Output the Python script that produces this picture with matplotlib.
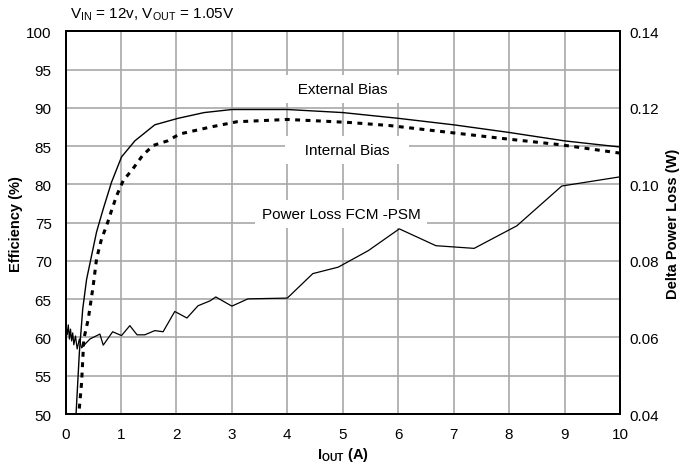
import matplotlib.pyplot as plt
import numpy as np

plt.rcParams['font.family'] = ['Liberation Sans Narrow', 'Liberation Sans', 'DejaVu Sans']
plt.rcParams['mathtext.fontset'] = 'custom'
plt.rcParams['mathtext.rm'] = 'Liberation Sans'
plt.rcParams['mathtext.bf'] = 'Liberation Sans:bold'

# External bias efficiency (%)
ext_i = [0.17, 0.19, 0.25, 0.31, 0.38, 0.47, 0.56, 0.68, 0.83, 1.01, 1.25, 1.61, 2.03, 2.5,
         3.0, 4.0, 5.0, 6.0, 7.0, 8.0, 9.0, 10.0]
ext_eff = [47, 50, 58.1, 63.7, 67.6, 70.7, 73.8, 76.8, 80.3, 83.6, 85.7, 87.8, 88.65, 89.4,
           89.8, 89.8, 89.4, 88.65, 87.8, 86.8, 85.7, 84.9]

# Internal bias efficiency (%)
int_i = [0.23, 0.24, 0.29, 0.33, 0.41, 0.50, 0.56, 0.65, 0.74, 0.83, 0.92, 1.04, 1.21, 1.39,
         1.58, 1.84, 2.06, 2.61, 3.09, 4.0, 4.59, 5.13, 5.85, 6.69, 7.9, 8.92, 10.0]
int_eff = [48, 50, 54.1, 59.8, 62.4, 66.8, 70.3, 72.9, 74.6, 76.6, 78.5, 80.5, 82.0, 83.8,
           85.1, 85.7, 86.6, 87.5, 88.2, 88.5, 88.3, 88.1, 87.7, 87.0, 86.0, 85.2, 84.1]

# Delta power loss FCM - PSM (W)
pl_i = [0.0, 0.03, 0.05, 0.07, 0.09, 0.11, 0.13, 0.15, 0.18, 0.21, 0.25, 0.29, 0.44, 0.62,
        0.68, 0.85, 1.01, 1.16, 1.29, 1.43, 1.61, 1.76, 1.97, 2.19, 2.39, 2.61, 2.71, 3.0,
        3.29, 4.0, 4.46, 4.92, 5.46, 6.02, 6.68, 7.37, 8.14, 8.95, 10.0]
pl_w = [0.0643, 0.0607, 0.0633, 0.0596, 0.0622, 0.0591, 0.0612, 0.0581, 0.0604, 0.0570,
        0.0596, 0.0573, 0.0596, 0.0609, 0.0580, 0.0615, 0.0605, 0.0631, 0.0607, 0.0607,
        0.0618, 0.0615, 0.0668, 0.0651, 0.0683, 0.0696, 0.0706, 0.0682, 0.0701, 0.0703,
        0.0767, 0.0784, 0.0827, 0.0884, 0.0840, 0.0833, 0.0892, 0.0996, 0.1020]

fig = plt.figure(figsize=(6.97, 4.64), dpi=100)
ax = fig.add_axes([0.094, 0.1056, 0.7955, 0.8244])
ax2 = ax.twinx()

ax.plot(ext_i, ext_eff, color='black', lw=1.0)
ax.plot(int_i, int_eff, color='black', lw=2.2, dashes=(1.6, 1.8))
ax2.plot(pl_i, pl_w, color='black', lw=0.9)

ax.set_xlim(0, 10)
ax.set_ylim(50, 100)
ax2.set_ylim(0.04, 0.14)
ax.set_xticks(np.arange(0, 11, 1))
ax.set_yticks(np.arange(50, 101, 5))
ax2.set_yticks(np.arange(0.04, 0.141, 0.02))
ax2.set_yticklabels([f"{v:.2f}" for v in np.arange(0.04, 0.141, 0.02)])

ax.grid(True, color='#a8a8a8', lw=1.2)
ax.set_axisbelow(True)
ax.tick_params(length=0, labelsize=11, pad=9)
ax.tick_params(axis='y', pad=10)
ax2.tick_params(length=0, labelsize=11, pad=7)
for a in (ax, ax2):
    for s in a.spines.values():
        s.set_color('black')
        s.set_linewidth(1.4)

ax.set_ylabel("Efficiency (%)", fontsize=10.5, fontweight='bold', labelpad=2)
ax2.set_ylabel("Delta Power Loss (W)", fontsize=10.5, fontweight='bold', labelpad=5)
ax.set_xlabel(r"I$_{\mathbf{OUT}}$ (A)", fontsize=10.5, fontweight='bold', labelpad=3)

box = dict(facecolor='white', edgecolor='none', pad=5)
ax.text(4.99, 92.5, "   External Bias   ", ha='center', va='center', fontsize=11,
        family='Liberation Sans', bbox=box)
ax.text(5.08, 84.5, "   Internal Bias   ", ha='center', va='center', fontsize=11,
        family='Liberation Sans', bbox=box)
ax.text(4.97, 76.1, "Power Loss FCM -PSM", ha='center', va='center', fontsize=11,
        family='Liberation Sans', bbox=box)

fig.text(70 / 697, 1 - 15 / 464, r"V$_{\mathrm{IN}}$ = 12v, V$_{\mathrm{OUT}}$ = 1.05V",
         fontsize=11, va='center', ha='left')

plt.savefig("out.png", dpi=100)
